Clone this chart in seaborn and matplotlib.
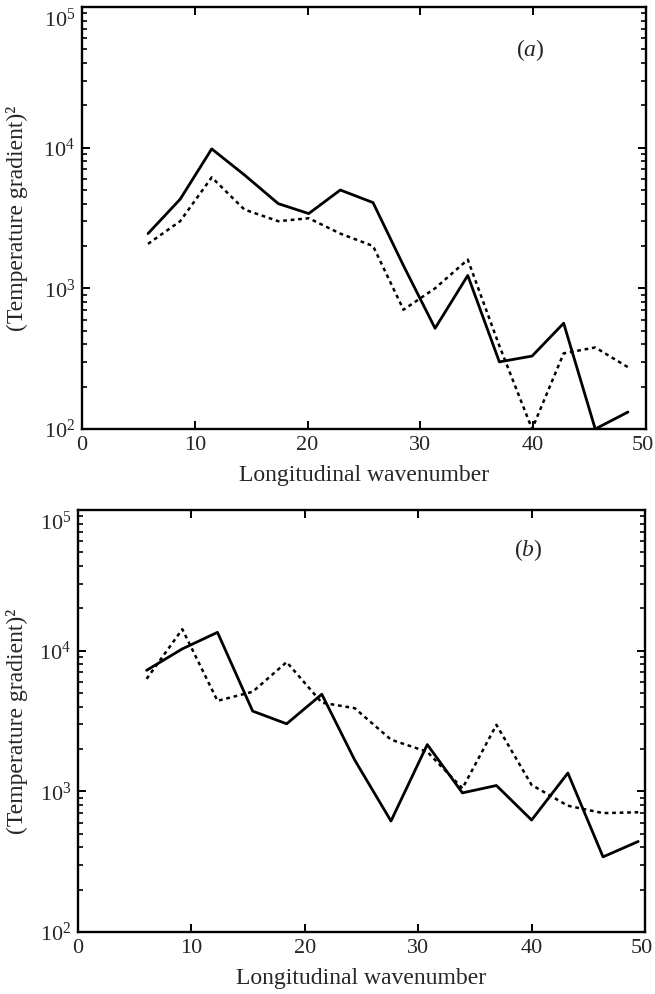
import numpy as np
import pandas as pd
import matplotlib
matplotlib.use("Agg")
import matplotlib.pyplot as plt
import matplotlib.ticker as mticker
import matplotlib.transforms as mtransforms
import seaborn as sns

# ---- data ----
wn_a = [5.85, 8.7, 11.5, 14.4, 17.4, 20.1, 22.9, 25.8, 28.5, 31.3, 34.2, 37.0, 39.9, 42.7, 45.5, 48.4]
solid_a = [2450, 4300, 9800, 6400, 4000, 3400, 5000, 4070, 1450, 520, 1235, 300, 330, 565, 100, 132]
dotted_a = [2070, 3000, 6150, 3630, 3000, 3150, 2450, 2000, 705, 1000, 1600, 390, 100, 345, 380, 275]

wn_b = [6.05, 9.2, 12.3, 15.4, 18.4, 21.5, 24.4, 27.6, 30.8, 33.9, 36.9, 40.0, 43.2, 46.3, 49.4]
solid_b = [7250, 10300, 13500, 3720, 3020, 4900, 1670, 615, 2150, 975, 1100, 625, 1350, 342, 440]
dotted_b = [6300, 14200, 4400, 5100, 8300, 4270, 3900, 2330, 1910, 1050, 2970, 1110, 790, 700, 710]

xticks = [0, 10, 20, 30, 40, 50]
panel_labels = ["a", "b"]
xlabel = "Longitudinal wavenumber"
ylabel = "(Temperature gradient)\u00b2"

sns.set_style("ticks")
plt.rcParams['font.family'] = ['Liberation Serif', 'DejaVu Serif']
plt.rcParams['mathtext.fontset'] = 'custom'
plt.rcParams['mathtext.rm'] = 'Liberation Serif'
plt.rcParams['mathtext.it'] = 'Liberation Serif:italic'

fig = plt.figure(figsize=(6.55, 9.94), dpi=100)
axA = fig.add_axes([82/655, 1-429/994, 564/655, 422/994])
axB = fig.add_axes([78/655, 1-932/994, 567/655, 422/994])

panels = [(axA, wn_a, solid_a, dotted_a, -0.0957), (axB, wn_b, solid_b, dotted_b, -0.088)]

for i, (ax, wn, s, d, ylx) in enumerate(panels):
    df = pd.DataFrame({"wn": wn * 2,
                       "val": s + d,
                       "kind": ["solid"] * len(wn) + ["dotted"] * len(wn)})
    sns.lineplot(data=df[df.kind == "solid"], x="wn", y="val", ax=ax,
                 color="black", lw=2.0, legend=False, estimator=None, sort=False)
    sns.lineplot(data=df[df.kind == "dotted"], x="wn", y="val", ax=ax,
                 color="black", lw=1.8, legend=False, estimator=None, sort=False,
                 linestyle=(0, (1.5, 1.5)))
    ax.set_yscale("log")
    ax.set_ylim(1e2, 1e5)
    ax.set_xlim(0, 50)
    ax.set_xticks(xticks)
    ax.set_xticklabels([str(t) for t in xticks])
    ax.yaxis.set_major_locator(mticker.FixedLocator([1e2, 1e3, 1e4, 1e5]))
    ax.yaxis.set_minor_locator(mticker.LogLocator(base=10, subs=np.arange(2, 10), numticks=20))
    ax.yaxis.set_minor_formatter(mticker.NullFormatter())
    ax.yaxis.set_major_formatter(mticker.FuncFormatter(lambda v, p: r"$10^{%d}$" % round(np.log10(v))))
    ax.tick_params(axis="both", which="major", direction="in", length=6, width=1.4,
                   top=True, right=True, labelsize=16, pad=5, color="black")
    ax.tick_params(axis="y", which="minor", direction="in", length=3.8, width=1.2,
                   left=True, right=True, color="black")
    ax.tick_params(axis="x", which="minor", bottom=False, top=False)
    for sp in ax.spines.values():
        sp.set_linewidth(1.7)
        sp.set_color("black")
    ax.set_xlabel(xlabel, fontsize=17, labelpad=7)
    ax.set_ylabel(ylabel, fontsize=17)
    ax.yaxis.set_label_coords(ylx, 0.5)
    ax.text(0.795, 0.898 if i == 0 else 0.905, r"($\mathit{%s}$)" % panel_labels[i],
            transform=ax.transAxes, fontsize=17, ha="center", va="center")
    fig.canvas.draw()
    ylabs = ax.get_yticklabels()
    ylabs[-1].set_va("top")
    ylabs[-1].set_transform(ylabs[-1].get_transform() +
                            mtransforms.ScaledTranslation(0, -2/100, fig.dpi_scale_trans))
    xlabs = ax.get_xticklabels()
    xlabs[-1].set_transform(xlabs[-1].get_transform() +
                            mtransforms.ScaledTranslation(-3/100, 0, fig.dpi_scale_trans))

fig.savefig("out.png", dpi=100)
